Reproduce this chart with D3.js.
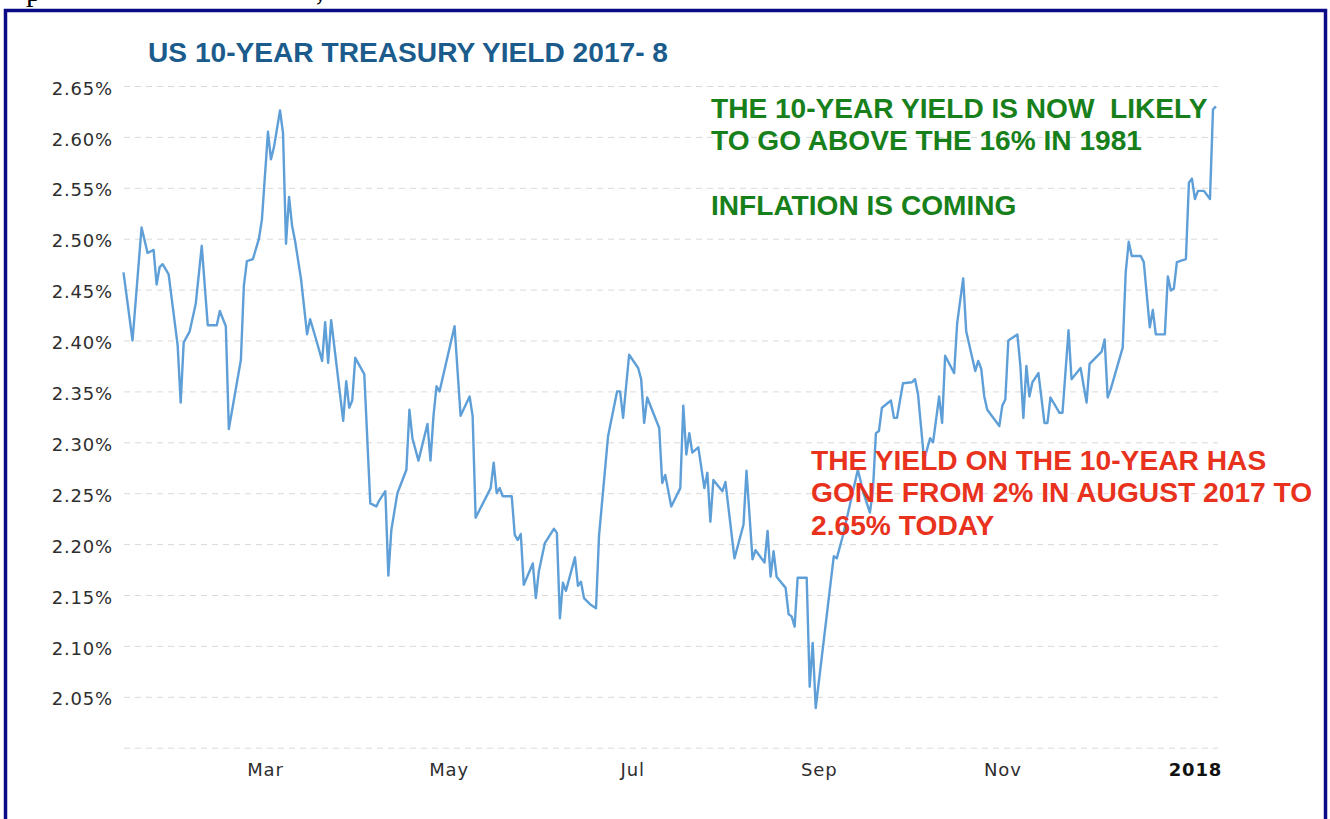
<!DOCTYPE html>
<html>
<head>
<meta charset="utf-8">
<script src="https://cdn.jsdelivr.net/npm/d3@7"></script>
<style>
  body { margin: 0; background: #fff; }
  svg { display: block; }
  .grid line { stroke: #d9d9d9; stroke-dasharray: 6 5; }
  .grid .domain { display: none; }
  .axis .domain { display: none; }
  .axis text { font-family: 'DejaVu Sans', Verdana, sans-serif; font-size: 18px; fill: #2e2e2e; letter-spacing: 0.8px; }
  .note { font-family: 'Liberation Sans', Arial, sans-serif; font-weight: bold; white-space: pre; }
</style>
</head>
<body>
<script>
const w = 1330;
const h = 819;

// data
const dates = [
  '2017-01-13','2017-01-16','2017-01-19','2017-01-21','2017-01-23','2017-01-24','2017-01-25','2017-01-26','2017-01-28','2017-01-31',
  '2017-02-01','2017-02-02','2017-02-04','2017-02-06','2017-02-08','2017-02-10','2017-02-13','2017-02-14','2017-02-16','2017-02-17','2017-02-21','2017-02-22','2017-02-23','2017-02-25','2017-02-27','2017-02-28',
  '2017-03-02','2017-03-03','2017-03-04','2017-03-06','2017-03-07','2017-03-08','2017-03-09','2017-03-10','2017-03-11','2017-03-13','2017-03-15','2017-03-16','2017-03-18','2017-03-20','2017-03-21','2017-03-22','2017-03-23','2017-03-27','2017-03-28','2017-03-29','2017-03-30','2017-03-31',
  '2017-04-03','2017-04-05','2017-04-07','2017-04-08','2017-04-10','2017-04-11','2017-04-12','2017-04-14','2017-04-17','2017-04-18','2017-04-19','2017-04-21','2017-04-24','2017-04-25','2017-04-26','2017-04-27','2017-04-28',
  '2017-05-03','2017-05-05','2017-05-08','2017-05-09','2017-05-10','2017-05-15','2017-05-16','2017-05-17','2017-05-18','2017-05-19','2017-05-22','2017-05-23','2017-05-24','2017-05-25','2017-05-26','2017-05-29','2017-05-30','2017-05-31',
  '2017-06-02','2017-06-05','2017-06-06','2017-06-07','2017-06-08','2017-06-09','2017-06-12','2017-06-13','2017-06-14','2017-06-15','2017-06-17','2017-06-19','2017-06-20','2017-06-23','2017-06-26','2017-06-27','2017-06-28','2017-06-30',
  '2017-07-03','2017-07-04','2017-07-05','2017-07-06','2017-07-08','2017-07-10','2017-07-11','2017-07-12','2017-07-14','2017-07-17','2017-07-18','2017-07-19','2017-07-20','2017-07-21','2017-07-23','2017-07-25','2017-07-26','2017-07-27','2017-07-28','2017-07-31',
  '2017-08-01','2017-08-04','2017-08-07','2017-08-08','2017-08-10','2017-08-11','2017-08-14','2017-08-15','2017-08-16','2017-08-17','2017-08-18','2017-08-21','2017-08-22','2017-08-23','2017-08-24','2017-08-25','2017-08-28','2017-08-29','2017-08-30','2017-08-31',
  '2017-09-06','2017-09-07','2017-09-09','2017-09-14','2017-09-16','2017-09-18','2017-09-19','2017-09-20','2017-09-21','2017-09-22','2017-09-25','2017-09-26','2017-09-27','2017-09-29',
  '2017-10-02','2017-10-03','2017-10-04','2017-10-06','2017-10-07','2017-10-08','2017-10-09','2017-10-11','2017-10-12','2017-10-13','2017-10-16','2017-10-17','2017-10-19','2017-10-20','2017-10-23','2017-10-24','2017-10-25','2017-10-26','2017-10-27','2017-10-31',
  '2017-11-01','2017-11-02','2017-11-03','2017-11-06','2017-11-07','2017-11-08','2017-11-09','2017-11-10','2017-11-11','2017-11-13','2017-11-15','2017-11-16','2017-11-17','2017-11-20','2017-11-21','2017-11-23','2017-11-24','2017-11-27','2017-11-29','2017-11-30',
  '2017-12-04','2017-12-05','2017-12-06','2017-12-07','2017-12-11','2017-12-12','2017-12-13','2017-12-14','2017-12-17','2017-12-18','2017-12-20','2017-12-21','2017-12-22','2017-12-25','2017-12-26','2017-12-27','2017-12-28','2017-12-29',
  '2018-01-01','2018-01-02','2018-01-03','2018-01-04','2018-01-05','2018-01-07','2018-01-09','2018-01-10','2018-01-11'
];

const yields = [
  2.467, 2.400, 2.511, 2.486, 2.489, 2.455, 2.472, 2.475, 2.465, 2.395,
  2.339, 2.398, 2.409, 2.436, 2.493, 2.415, 2.415, 2.429, 2.414, 2.313, 2.381, 2.454, 2.478, 2.480, 2.500, 2.519,
  2.605, 2.578, 2.590, 2.626, 2.604, 2.495, 2.541, 2.513, 2.498, 2.460, 2.406, 2.421, 2.401, 2.380, 2.418, 2.378, 2.420, 2.321, 2.360, 2.334, 2.341, 2.383,
  2.367, 2.240, 2.237, 2.243, 2.252, 2.169, 2.214, 2.250, 2.273, 2.332, 2.304, 2.282, 2.318, 2.282, 2.326, 2.355, 2.350,
  2.414, 2.326, 2.345, 2.326, 2.226, 2.255, 2.280, 2.250, 2.255, 2.247, 2.247, 2.209, 2.204, 2.210, 2.160, 2.181, 2.147, 2.173,
  2.201, 2.215, 2.211, 2.127, 2.162, 2.154, 2.187, 2.159, 2.163, 2.147, 2.141, 2.137, 2.208, 2.306, 2.350, 2.350, 2.324, 2.386,
  2.373, 2.362, 2.319, 2.344, 2.329, 2.314, 2.260, 2.268, 2.237, 2.255, 2.336, 2.288, 2.309, 2.290, 2.295, 2.255, 2.270, 2.222, 2.263, 2.252,
  2.261, 2.186, 2.219, 2.272, 2.185, 2.194, 2.182, 2.213, 2.168, 2.193, 2.168, 2.157, 2.131, 2.129, 2.119, 2.167, 2.167, 2.060, 2.103, 2.039,
  2.188, 2.186, 2.208, 2.273, 2.249, 2.231, 2.252, 2.309, 2.311, 2.334, 2.341, 2.324, 2.324, 2.358,
  2.359, 2.362, 2.347, 2.283, 2.293, 2.304, 2.300, 2.345, 2.319, 2.385, 2.368, 2.417, 2.461, 2.409, 2.370, 2.380, 2.372, 2.345, 2.332, 2.316,
  2.336, 2.342, 2.400, 2.406, 2.375, 2.324, 2.375, 2.345, 2.359, 2.368, 2.319, 2.319, 2.344, 2.329, 2.329, 2.410, 2.362, 2.373, 2.339, 2.377,
  2.389, 2.401, 2.344, 2.352, 2.393, 2.467, 2.497, 2.483, 2.483, 2.477, 2.413, 2.430, 2.406, 2.406, 2.463, 2.449, 2.451, 2.477,
  2.480, 2.555, 2.559, 2.539, 2.547, 2.547, 2.539, 2.627, 2.630
];

const yTicks = [2.05, 2.10, 2.15, 2.20, 2.25, 2.30, 2.35, 2.40, 2.45, 2.50, 2.55, 2.60, 2.65];
const gridValues = [2.00].concat(yTicks);

const title = 'US 10-YEAR TREASURY YIELD 2017- 8';
const greenNote = ['THE 10-YEAR YIELD IS NOW  LIKELY', 'TO GO ABOVE THE 16% IN 1981', '', 'INFLATION IS COMING'];
const redNote = ['THE YIELD ON THE 10-YEAR HAS', 'GONE FROM 2% IN AUGUST 2017 TO', '2.65% TODAY'];

const parse = d3.timeParse('%Y-%m-%d');
const dataset = dates.map((d, i) => ({ date: parse(d), value: yields[i] }));

const svg = d3.select('body')
   .append('svg')
   .attr('width', w)
   .attr('height', h);

// clipped page text above the frame
svg.append('text').attr('x', 26).attr('y', 1)
   .style('font-family', 'Liberation Serif').style('font-size', '30px').text('p');
svg.append('text').attr('x', 316).attr('y', 0)
   .style('font-family', 'Liberation Serif').style('font-size', '30px').text(',');

// frame
svg.append('rect')
   .attr('x', 5.5).attr('y', 10.5)
   .attr('width', 1320).attr('height', 900)
   .attr('fill', 'none')
   .attr('stroke', '#0b0b86')
   .attr('stroke-width', 3.5);

const xScale = d3.scaleTime()
   .domain([parse('2017-01-13'), parse('2018-01-11')])
   .range([123.5, 1216]);

const yScale = d3.scaleLinear()
   .domain([2.00, 2.65])
   .range([747.7, 86]);

// dashed gridlines
svg.append('g')
   .attr('class', 'grid')
   .attr('transform', 'translate(124, 0)')
   .call(d3.axisLeft(yScale).tickValues(gridValues).tickSize(-1094).tickFormat(''));

// y labels
svg.append('g')
   .attr('class', 'axis')
   .attr('transform', 'translate(113, 0)')
   .call(d3.axisLeft(yScale).tickValues(yTicks).tickSize(0).tickPadding(0)
      .tickFormat((d) => d.toFixed(2) + '%'))
   .selectAll('text')
   .attr('dy', '0.45em');

// x labels
const xAxis = d3.axisBottom(xScale)
   .ticks(d3.timeMonth.every(2))
   .tickSize(0)
   .tickPadding(0)
   .tickFormat((d) => d.getMonth() === 0 ? d3.timeFormat('%Y')(d) : d3.timeFormat('%b')(d));

svg.append('g')
   .attr('class', 'axis')
   .attr('transform', 'translate(0, 763)')
   .call(xAxis)
   .selectAll('text')
   .filter((d) => d.getMonth() === 0)
   .attr('dx', 9)
   .style('font-weight', 'bold')
   .style('fill', '#111');

const line = d3.line()
   .x((d) => xScale(d.date))
   .y((d) => yScale(d.value));

svg.append('path')
   .datum(dataset)
   .attr('d', line)
   .attr('fill', 'none')
   .attr('stroke', '#5f9fd8')
   .attr('stroke-width', 2.4)
   .attr('stroke-linejoin', 'round');

svg.append('text')
   .attr('class', 'note')
   .attr('x', 148).attr('y', 62)
   .attr('textLength', 520)
   .attr('lengthAdjust', 'spacingAndGlyphs')
   .style('font-size', '27px')
   .style('fill', '#1b5c8c')
   .text(title);

svg.selectAll('.green')
   .data(greenNote)
   .enter()
   .append('text')
   .attr('class', 'note green')
   .attr('x', 711)
   .attr('y', (d, i) => 117.5 + i * 32.5)
   .style('font-size', '28.1px')
   .style('fill', '#17801b')
   .text((d) => d);

svg.selectAll('.red')
   .data(redNote)
   .enter()
   .append('text')
   .attr('class', 'note red')
   .attr('x', 811)
   .attr('y', (d, i) => 469.5 + i * 32.5)
   .style('font-size', '28.2px')
   .style('fill', '#e8321e')
   .text((d) => d);
</script>
</body>
</html>
